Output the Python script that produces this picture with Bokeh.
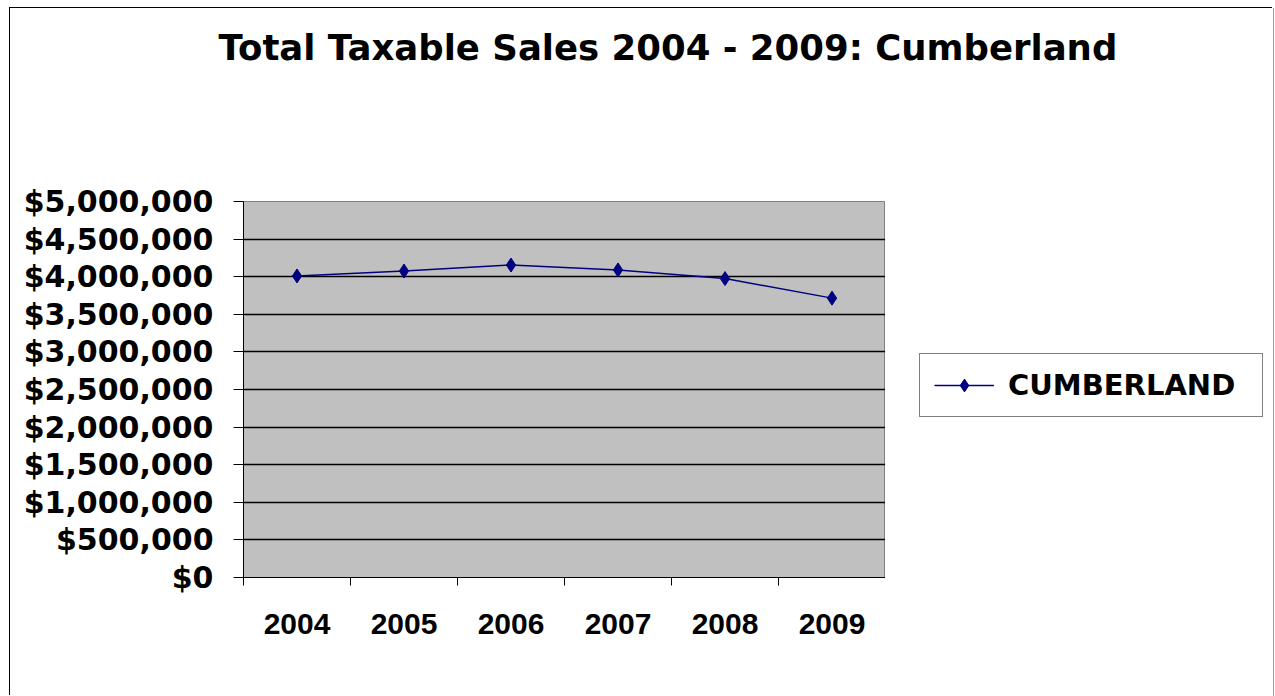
from bokeh.plotting import figure
from bokeh.layouts import column, row
from bokeh.models import (Range1d, FixedTicker, NumeralTickFormatter, Legend,
                          LegendItem, ColumnDataSource)
from bokeh.embed import file_html
from bokeh.resources import INLINE

# ---- data ----
years = ["2004", "2005", "2006", "2007", "2008", "2009"]
sales = [4010000, 4075000, 4155000, 4090000, 3975000, 3715000]
y_ticks = [0, 500000, 1000000, 1500000, 2000000, 2500000,
           3000000, 3500000, 4000000, 4500000, 5000000]
series_name = "CUMBERLAND"
title_text = "Total Taxable Sales 2004 - 2009: Cumberland"

x_pos = [i + 0.5 for i in range(len(years))]
src = ColumnDataSource(dict(x=x_pos, y=sales, year=years))

LINE_COLOR = "#000080"


def bare(fig):
    fig.border_fill_color = "white"
    fig.background_fill_color = "white"
    fig.outline_line_color = None
    fig.grid.visible = False
    fig.min_border_left = fig.min_border_right = 0
    fig.min_border_bottom = 0


# ---- title strip ----
pt = figure(width=1263, height=100, output_backend="svg", toolbar_location=None,
            x_axis_location=None, y_axis_location=None,
            x_range=Range1d(0, 1), y_range=Range1d(0, 1))
bare(pt)
pt.min_border_top = 59
pt.title.text = title_text
pt.title.text_font = "DejaVu Sans"
pt.title.text_font_style = "bold"
pt.title.text_font_size = "35.5px"
pt.title.text_color = "black"
pt.title.align = "left"
pt.title.offset = 208
pt.title.standoff = 0

# ---- main chart ----
p = figure(width=875, height=588, output_backend="svg", toolbar_location=None,
           x_range=Range1d(0, len(years)), y_range=Range1d(0, max(y_ticks)),
           min_border_left=233, min_border_right=0,
           min_border_top=93, min_border_bottom=119)
p.background_fill_color = "#C0C0C0"
p.border_fill_color = "white"
p.outline_line_color = "#808080"
p.outline_line_width = 1

xa = p.xaxis[0]
xa.ticker = FixedTicker(ticks=x_pos, minor_ticks=list(range(len(years) + 1)))
xa.major_label_overrides = {x: y for x, y in zip(x_pos, years)}
xa.major_tick_line_color = None
xa.minor_tick_line_color = "black"
xa.minor_tick_out = 8
xa.minor_tick_in = 0
xa.axis_line_color = "black"
xa.major_label_text_font = "Liberation Sans"
xa.major_label_text_font_style = "bold"
xa.major_label_text_font_size = "30px"
xa.major_label_text_color = "black"
xa.major_label_standoff = 28

ya = p.yaxis[0]
ya.ticker = FixedTicker(ticks=y_ticks)
ya.formatter = NumeralTickFormatter(format="$0,0")
ya.major_tick_out = 10
ya.major_tick_in = 0
ya.minor_tick_line_color = None
ya.major_tick_line_color = "black"
ya.axis_line_color = "black"
ya.major_label_text_font = "DejaVu Sans"
ya.major_label_text_font_style = "bold"
ya.major_label_text_font_size = "30px"
ya.major_label_text_color = "black"
ya.major_label_standoff = 20

p.xgrid.visible = False
p.ygrid.ticker = FixedTicker(ticks=y_ticks)
p.ygrid.grid_line_color = "black"
p.ygrid.grid_line_width = 1.5

p.line("x", "y", source=src, line_color=LINE_COLOR, line_width=1.5)
p.scatter("x", "y", source=src, marker="diamond", size=14,
          fill_color=LINE_COLOR, line_color=LINE_COLOR)

# ---- legend panel (same series; its own ranges keep the marks out of view) ----
pl = figure(width=388, height=588, output_backend="svg", toolbar_location=None,
            x_axis_location=None, y_axis_location=None,
            x_range=Range1d(0, 1), y_range=Range1d(0, 1))
bare(pl)
pl.min_border_top = 0
k_line = pl.line("x", "y", source=src, line_color=LINE_COLOR, line_width=1.5)
k_pts = pl.scatter("x", "y", source=src, marker="diamond", size=14,
                   fill_color=LINE_COLOR, line_color=LINE_COLOR)

legend = Legend(items=[LegendItem(label=series_name, renderers=[k_line, k_pts])],
                location=(34, 160))
legend.border_line_color = "black"
legend.border_line_width = 1
legend.background_fill_color = "white"
legend.background_fill_alpha = 1
legend.label_text_font = "DejaVu Sans"
legend.label_text_font_style = "bold"
legend.label_text_font_size = "29px"
legend.label_text_color = "black"
legend.padding = 14
legend.glyph_width = 60
legend.glyph_height = 32
legend.label_standoff = 14
legend.label_width = 240
pl.add_layout(legend)

layout = column(pt, row(p, pl))
layout.styles = {"margin-left": "10px", "margin-top": "8px",
                 "box-shadow": "-1px -1px 0 0 black, 1px 0 0 0 #a0a0a0"}

open("out.html", "w").write(file_html(layout, INLINE))
